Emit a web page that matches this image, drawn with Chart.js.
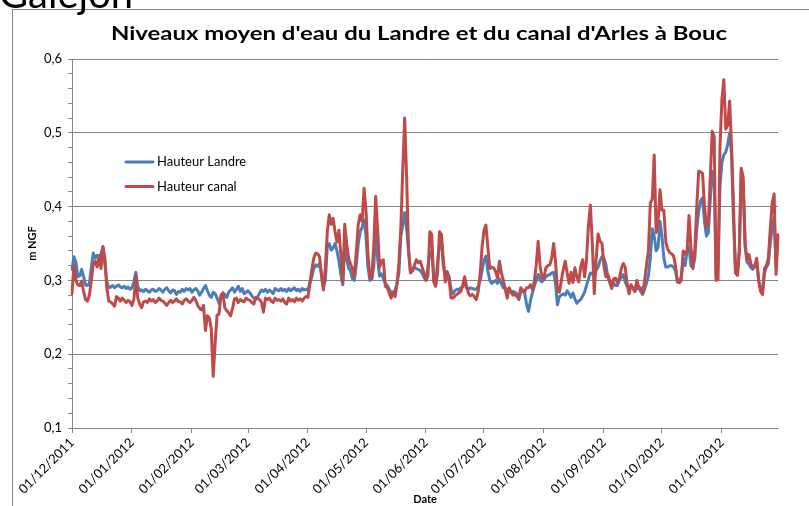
<!DOCTYPE html>
<html lang="fr">
<head>
<meta charset="utf-8">
<title>Niveaux moyen d'eau du Landre et du canal d'Arles à Bouc</title>
<script src="https://cdn.jsdelivr.net/npm/chart.js@4.4.1/dist/chart.umd.min.js"></script>
<style>
  html, body { margin: 0; padding: 0; background: #fff; }
  #cadre { width: 809px; height: 506px; }
</style>
</head>
<body>
<div id="cadre"><canvas id="graphique" width="809" height="506"></canvas></div>
<script>
// Textes du graphique
var enTete = 'Galejon';
var titre = "Niveaux moyen d'eau du Landre et du canal d'Arles à Bouc";
var titreY = 'm NGF';
var titreX = 'Date';

// Hauteur Landre (m NGF), une valeur par jour a partir du 01/12/2011
var hauteurLandre = [
    0.315, 0.332, 0.325, 0.305, 0.306, 0.315, 0.305, 0.294, 0.293, 0.296,
    0.318, 0.337, 0.330, 0.334, 0.332, 0.336, 0.345, 0.322, 0.298, 0.290,
    0.291, 0.293, 0.290, 0.292, 0.294, 0.291, 0.290, 0.292, 0.289, 0.291,
    0.288, 0.290, 0.298, 0.311, 0.292, 0.286, 0.287, 0.285, 0.288, 0.286,
    0.284, 0.287, 0.288, 0.285, 0.286, 0.289, 0.287, 0.284, 0.288, 0.290,
    0.286, 0.283, 0.287, 0.286, 0.281, 0.285, 0.284, 0.288, 0.285, 0.289,
    0.287, 0.289, 0.284, 0.287, 0.289, 0.286, 0.280, 0.284, 0.289, 0.293,
    0.286, 0.280, 0.277, 0.284, 0.282, 0.276, 0.269, 0.276, 0.283, 0.281,
    0.277, 0.284, 0.287, 0.290, 0.284, 0.288, 0.292, 0.285, 0.289, 0.282,
    0.284, 0.286, 0.283, 0.279, 0.276, 0.274, 0.278, 0.283, 0.287, 0.285,
    0.288, 0.284, 0.287, 0.285, 0.282, 0.289, 0.287, 0.286, 0.289, 0.286,
    0.288, 0.285, 0.289, 0.286, 0.288, 0.290, 0.286, 0.288, 0.285, 0.289,
    0.287, 0.288, 0.287, 0.297, 0.305, 0.316, 0.321, 0.319, 0.323, 0.310,
    0.291, 0.300, 0.346, 0.350, 0.341, 0.344, 0.350, 0.340, 0.326, 0.308,
    0.294, 0.350, 0.328, 0.317, 0.313, 0.302, 0.300, 0.322, 0.350, 0.366,
    0.372, 0.382, 0.360, 0.318, 0.300, 0.302, 0.318, 0.368, 0.330, 0.306,
    0.309, 0.302, 0.296, 0.293, 0.288, 0.284, 0.284, 0.286, 0.296, 0.310,
    0.360, 0.375, 0.392, 0.370, 0.340, 0.312, 0.313, 0.318, 0.316, 0.315,
    0.313, 0.310, 0.304, 0.300, 0.318, 0.338, 0.340, 0.305, 0.294, 0.325,
    0.352, 0.350, 0.320, 0.306, 0.310, 0.305, 0.288, 0.282, 0.286, 0.288,
    0.287, 0.290, 0.291, 0.295, 0.290, 0.288, 0.290, 0.289, 0.288, 0.288,
    0.292, 0.300, 0.313, 0.327, 0.333, 0.313, 0.300, 0.296, 0.298, 0.300,
    0.296, 0.302, 0.296, 0.290, 0.290, 0.286, 0.288, 0.284, 0.285, 0.284,
    0.282, 0.274, 0.284, 0.286, 0.283, 0.268, 0.258, 0.272, 0.283, 0.292,
    0.300, 0.308, 0.300, 0.298, 0.301, 0.305, 0.307, 0.308, 0.310, 0.311,
    0.295, 0.267, 0.278, 0.280, 0.282, 0.280, 0.286, 0.282, 0.277, 0.283,
    0.275, 0.269, 0.272, 0.274, 0.279, 0.284, 0.293, 0.302, 0.310, 0.309,
    0.308, 0.314, 0.318, 0.327, 0.332, 0.330, 0.322, 0.305, 0.297, 0.291,
    0.296, 0.293, 0.293, 0.300, 0.304, 0.308, 0.298, 0.292, 0.291, 0.293,
    0.289, 0.285, 0.289, 0.290, 0.285, 0.281, 0.288, 0.296, 0.306, 0.330,
    0.370, 0.360, 0.340, 0.345, 0.380, 0.360, 0.330, 0.318, 0.318, 0.320,
    0.320, 0.318, 0.313, 0.298, 0.297, 0.306, 0.330, 0.320, 0.340, 0.345,
    0.320, 0.317, 0.330, 0.370, 0.394, 0.408, 0.412, 0.380, 0.360, 0.365,
    0.410, 0.448, 0.440, 0.305, 0.320, 0.426, 0.460, 0.470, 0.474, 0.484,
    0.500, 0.470, 0.380, 0.318, 0.307, 0.340, 0.450, 0.430, 0.345, 0.325,
    0.322, 0.317, 0.315, 0.318, 0.325, 0.300, 0.288, 0.285, 0.310, 0.318,
    0.322, 0.350, 0.372, 0.385, 0.320, 0.360
];

// Hauteur canal (m NGF), meme pas de temps
var hauteurCanal = [
    0.282, 0.321, 0.300, 0.294, 0.293, 0.299, 0.285, 0.274, 0.272, 0.280,
    0.300, 0.322, 0.326, 0.318, 0.333, 0.316, 0.346, 0.330, 0.290, 0.272,
    0.271, 0.268, 0.265, 0.278, 0.276, 0.272, 0.276, 0.273, 0.270, 0.273,
    0.271, 0.266, 0.274, 0.307, 0.276, 0.268, 0.263, 0.271, 0.272, 0.270,
    0.275, 0.272, 0.274, 0.270, 0.272, 0.276, 0.273, 0.272, 0.269, 0.266,
    0.270, 0.273, 0.270, 0.272, 0.275, 0.271, 0.271, 0.268, 0.273, 0.275,
    0.272, 0.270, 0.273, 0.277, 0.273, 0.266, 0.262, 0.260, 0.266, 0.232,
    0.252, 0.249, 0.234, 0.170, 0.215, 0.253, 0.254, 0.280, 0.283, 0.263,
    0.259, 0.256, 0.252, 0.262, 0.275, 0.276, 0.270, 0.274, 0.272, 0.271,
    0.276, 0.274, 0.273, 0.270, 0.268, 0.277, 0.276, 0.274, 0.270, 0.257,
    0.276, 0.274, 0.276, 0.272, 0.270, 0.276, 0.273, 0.274, 0.272, 0.275,
    0.270, 0.268, 0.276, 0.272, 0.274, 0.271, 0.276, 0.273, 0.275, 0.272,
    0.276, 0.278, 0.277, 0.296, 0.315, 0.330, 0.337, 0.336, 0.332, 0.305,
    0.287, 0.318, 0.366, 0.389, 0.376, 0.384, 0.366, 0.352, 0.368, 0.335,
    0.298, 0.376, 0.350, 0.330, 0.322, 0.316, 0.305, 0.340, 0.376, 0.389,
    0.380, 0.425, 0.395, 0.335, 0.305, 0.303, 0.345, 0.414, 0.370, 0.318,
    0.326, 0.328, 0.292, 0.290, 0.283, 0.276, 0.284, 0.278, 0.294, 0.323,
    0.371, 0.450, 0.520, 0.440, 0.340, 0.310, 0.313, 0.320, 0.328, 0.324,
    0.326, 0.318, 0.310, 0.300, 0.306, 0.366, 0.362, 0.298, 0.292, 0.310,
    0.366, 0.362, 0.328, 0.298, 0.312, 0.300, 0.276, 0.276, 0.279, 0.281,
    0.283, 0.285, 0.294, 0.305, 0.292, 0.282, 0.279, 0.281, 0.278, 0.274,
    0.285, 0.308, 0.345, 0.368, 0.375, 0.345, 0.316, 0.318, 0.317, 0.312,
    0.303, 0.326, 0.310, 0.300, 0.288, 0.276, 0.290, 0.284, 0.280, 0.281,
    0.278, 0.276, 0.290, 0.287, 0.285, 0.290, 0.290, 0.294, 0.288, 0.298,
    0.321, 0.353, 0.320, 0.303, 0.305, 0.317, 0.320, 0.321, 0.330, 0.350,
    0.325, 0.287, 0.284, 0.300, 0.315, 0.326, 0.310, 0.296, 0.311, 0.297,
    0.317, 0.305, 0.298, 0.318, 0.328, 0.305, 0.328, 0.375, 0.402, 0.350,
    0.282, 0.330, 0.363, 0.353, 0.350, 0.320, 0.305, 0.308, 0.300, 0.289,
    0.302, 0.303, 0.297, 0.303, 0.316, 0.323, 0.318, 0.295, 0.282, 0.294,
    0.290, 0.285, 0.300, 0.291, 0.290, 0.283, 0.299, 0.320, 0.340, 0.405,
    0.410, 0.470, 0.365, 0.380, 0.423, 0.395, 0.395, 0.352, 0.342, 0.338,
    0.336, 0.333, 0.320, 0.298, 0.297, 0.300, 0.340, 0.336, 0.340, 0.388,
    0.345, 0.316, 0.342, 0.400, 0.448, 0.447, 0.445, 0.400, 0.372, 0.378,
    0.440, 0.502, 0.495, 0.300, 0.301, 0.480, 0.545, 0.572, 0.505, 0.510,
    0.543, 0.480, 0.400, 0.310, 0.307, 0.340, 0.452, 0.440, 0.350, 0.328,
    0.335, 0.322, 0.318, 0.320, 0.330, 0.300, 0.285, 0.281, 0.316, 0.320,
    0.330, 0.370, 0.405, 0.417, 0.308, 0.362
];

// Axe vertical : bornes et graduations
var yMin = 0.1;
var yMax = 0.6;
var yPasMajeur = 0.1;
var yPasMineur = 0.02;

// Categories : un libelle jj/mm/aaaa par jour depuis le 01/12/2011
var premierJour = [2011, 11, 1];
var dates = [];
(function () {
    function deux(n) { return (n < 10 ? '0' : '') + n; }
    for (var i = 0; i < hauteurLandre.length; i++) {
        var d = new Date(premierJour[0], premierJour[1], premierJour[2] + i);
        dates.push(deux(d.getDate()) + '/' + deux(d.getMonth() + 1) + '/' + d.getFullYear());
    }
})();

var GRIS = '#868686';
var POLICE = 'Lato, "Liberation Sans", sans-serif';

function estMajeur(v) {
    var q = v / yPasMajeur;
    return Math.abs(q - Math.round(q)) < 1e-6;
}

// cadre, en-tete, titre et legende dessines sur le canvas
var decor = {
    id: 'decor',
    beforeDraw: function (chart) {
        var ctx = chart.ctx;
        ctx.save();
        ctx.fillStyle = '#fff';
        ctx.fillRect(0, 0, chart.width, chart.height);
        ctx.strokeStyle = GRIS;
        ctx.lineWidth = 1;
        ctx.strokeRect(12.5, 9.5, chart.width + 20, chart.height + 20);
        ctx.fillStyle = '#000';
        ctx.textBaseline = 'alphabetic';
        ctx.textAlign = 'left';
        ctx.font = '40px ' + POLICE;
        ctx.fillText(enTete, -1, 8);

        // titre : largeur calee sur l'original (111 -> 727 px)
        ctx.font = 'bold 19px ' + POLICE;
        var largeur = ctx.measureText(titre).width;
        ctx.translate(419, 40);
        ctx.scale(616 / largeur, 1);
        ctx.textAlign = 'center';
        ctx.fillText(titre, 0, 0);
        ctx.restore();
    },
    afterDraw: function (chart) {
        var ctx = chart.ctx;
        ctx.save();
        ctx.font = '13px ' + POLICE;
        ctx.textBaseline = 'middle';
        ctx.textAlign = 'left';
        chart.data.datasets.forEach(function (ds, i) {
            var y = 162 + i * 24.5;
            ctx.strokeStyle = ds.borderColor;
            ctx.lineWidth = 3;
            ctx.lineCap = 'round';
            ctx.beginPath();
            ctx.moveTo(126, y);
            ctx.lineTo(153, y);
            ctx.stroke();
            ctx.fillStyle = '#000';
            ctx.fillText(ds.label, 157, y);
        });
        ctx.restore();
    }
};

Chart.defaults.font.family = POLICE;

var ctx = document.getElementById('graphique').getContext('2d');
var grafico = new Chart(ctx, {
    type: 'line',
    data: {
        labels: dates,
        datasets: [{
            label: 'Hauteur Landre',
            data: hauteurLandre,
            borderColor: '#4A7EBB',
            backgroundColor: '#4A7EBB',
            order: 2
        }, {
            label: 'Hauteur canal',
            data: hauteurCanal,
            borderColor: '#BE4B48',
            backgroundColor: '#BE4B48',
            order: 1
        }]
    },
    options: {
        responsive: false,
        animation: false,
        devicePixelRatio: 1,
        layout: { padding: { left: 12, top: 59, right: 31, bottom: 0 } },
        elements: {
            point: { radius: 0, hoverRadius: 0 },
            line: { borderWidth: 3, tension: 0, borderJoinStyle: 'round', borderCapStyle: 'round' }
        },
        plugins: {
            legend: { display: false },
            title: { display: false },
            tooltip: { enabled: false }
        },
        scales: {
            x: {
                type: 'category',
                offset: false,
                grid: { display: true, drawOnChartArea: false, drawTicks: true, tickLength: 5, color: GRIS },
                border: { display: true, color: GRIS, width: 1 },
                ticks: {
                    autoSkip: false,
                    maxRotation: 45,
                    minRotation: 45,
                    padding: 2,
                    color: '#000',
                    font: { size: 13 },
                    callback: function (value) {
                        var lib = this.getLabelForValue(value);
                        return lib.substring(0, 3) === '01/' ? lib : null;
                    }
                },
                title: {
                    display: true,
                    text: titreX,
                    color: '#000',
                    font: { size: 11, weight: 'bold' },
                    padding: { top: 0, bottom: 0 }
                },
                afterFit: function (scale) { scale.height = 78; }
            },
            y: {
                min: yMin,
                max: yMax,
                grid: {
                    color: function (c) { return estMajeur(c.tick.value) ? GRIS : 'rgba(0,0,0,0)'; },
                    tickColor: GRIS,
                    tickLength: 4
                },
                border: { display: true, color: GRIS, width: 1 },
                ticks: {
                    stepSize: yPasMineur,
                    autoSkip: false,
                    padding: 6,
                    color: '#000',
                    font: { size: 13 },
                    callback: function (v) {
                        return estMajeur(v) ? v.toFixed(1).replace('.', ',') : '';
                    }
                },
                title: {
                    display: true,
                    text: titreY,
                    color: '#000',
                    font: { size: 11, weight: 'bold' },
                    padding: { top: 14, bottom: 0 }
                },
                afterFit: function (scale) { scale.width = 60; }
            }
        }
    },
    plugins: [decor]
});
</script>
</body>
</html>
